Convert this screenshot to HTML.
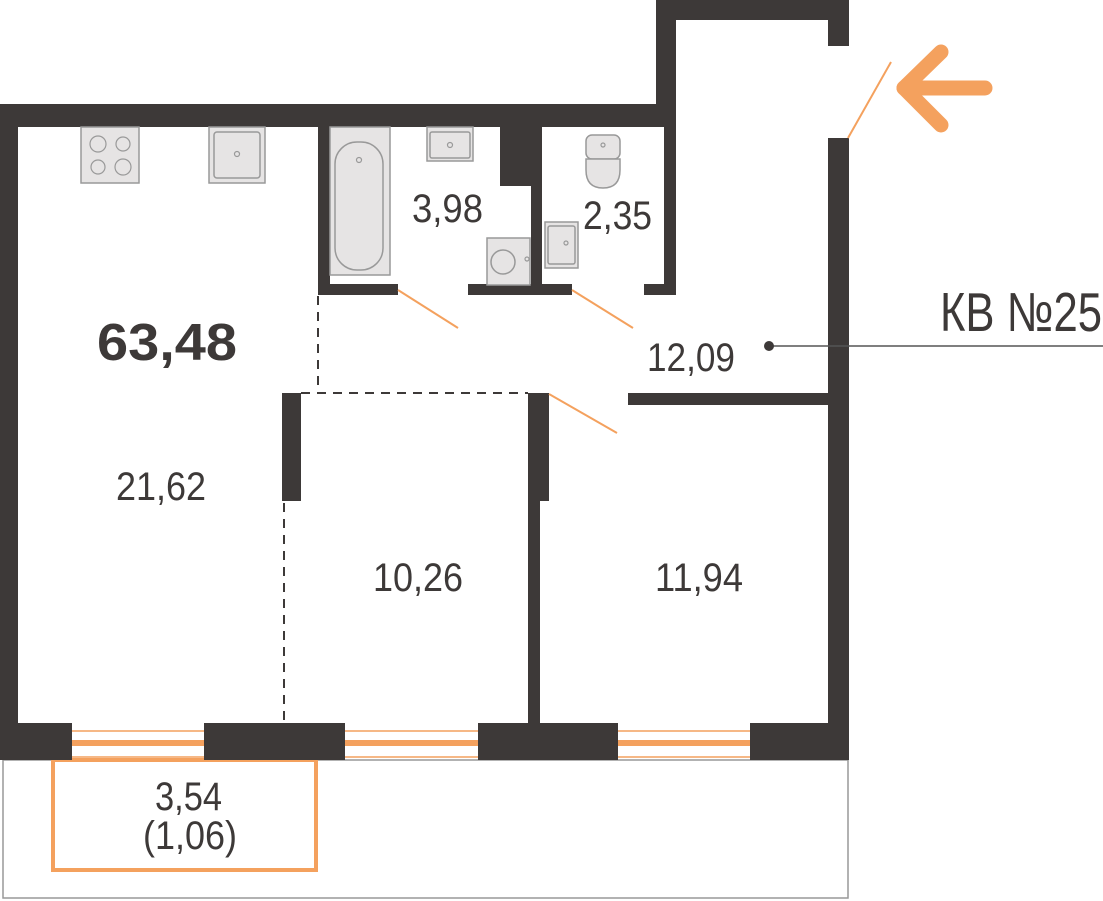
<!DOCTYPE html>
<html><head><meta charset="utf-8"><style>
html,body{margin:0;padding:0;background:#fff;}
svg{display:block;}
text{font-family:"Liberation Sans",sans-serif;fill:#3d3938;}
</style></head><body>
<svg width="1103" height="901" viewBox="0 0 1103 901" xmlns="http://www.w3.org/2000/svg">
<rect x="3" y="760" width="845" height="138" fill="none" stroke="#999" stroke-width="1.5"/>
<rect x="53" y="760" width="263" height="110" fill="none" stroke="#f4a15e" stroke-width="4"/>
<g fill="#3d3938">
<rect x="0" y="104" width="665" height="23"/>
<rect x="0" y="104" width="18" height="656"/>
<rect x="656" y="0" width="193" height="20"/>
<rect x="656" y="0" width="20" height="120"/>
<rect x="664" y="110" width="12" height="185"/>
<rect x="644" y="284" width="32" height="11"/>
<rect x="828" y="0" width="21" height="46"/>
<rect x="828" y="138" width="21" height="622"/>
<rect x="0" y="723" width="72" height="37"/>
<rect x="204" y="723" width="141" height="37"/>
<rect x="478" y="723" width="140" height="37"/>
<rect x="750" y="723" width="99" height="37"/>
<rect x="318" y="127" width="12" height="168"/>
<rect x="318" y="284" width="80" height="11"/>
<rect x="468" y="284" width="104" height="11"/>
<rect x="500" y="127" width="42" height="59"/>
<rect x="531" y="186" width="11" height="109"/>
<rect x="628" y="393" width="200" height="12"/>
<rect x="282" y="393" width="19" height="108"/>
<rect x="528" y="393" width="21" height="108"/>
<rect x="528" y="393" width="12" height="330"/>
</g>
<g stroke="#f4a15e">
<line x1="72" y1="731" x2="204" y2="731" stroke-width="1.5"/>
<line x1="72" y1="743" x2="204" y2="743" stroke-width="6"/>
<line x1="72" y1="757" x2="204" y2="757" stroke-width="1.5"/>
<line x1="345" y1="731" x2="478" y2="731" stroke-width="1.5"/>
<line x1="345" y1="743" x2="478" y2="743" stroke-width="6"/>
<line x1="345" y1="757" x2="478" y2="757" stroke-width="1.5"/>
<line x1="618" y1="731" x2="750" y2="731" stroke-width="1.5"/>
<line x1="618" y1="743" x2="750" y2="743" stroke-width="6"/>
<line x1="618" y1="757" x2="750" y2="757" stroke-width="1.5"/>
</g>
<g stroke="#f4a15e" stroke-width="2">
<line x1="398" y1="290" x2="458" y2="328"/>
<line x1="572" y1="290" x2="633" y2="328"/>
<line x1="549" y1="394" x2="617" y2="433"/>
<line x1="848" y1="138" x2="891" y2="62"/>
</g>
<g stroke="#f4a15e" stroke-width="15" stroke-linecap="round" stroke-linejoin="round" fill="none">
<polyline points="941,52 904,88 941,125"/>
<line x1="904" y1="88" x2="985" y2="88"/>
</g>
<g stroke="#3d3938" stroke-width="2" stroke-dasharray="9,7" fill="none">
<line x1="318" y1="296" x2="318" y2="393"/>
<line x1="301" y1="393" x2="528" y2="393"/>
<line x1="284" y1="503" x2="284" y2="723"/>
</g>
<g fill="#e6e4e4" stroke="#999" stroke-width="1.5">
<rect x="81" y="127" width="58" height="56"/>
<rect x="209" y="127" width="56" height="56"/>
<rect x="214" y="132" width="46" height="46" rx="3"/>
<rect x="330" y="127" width="60" height="148"/>
<rect x="335" y="142" width="48" height="128" rx="22"/>
<rect x="427" y="127" width="46" height="34"/>
<rect x="430" y="132" width="40" height="26" rx="2"/>
<rect x="487" y="238" width="43" height="47"/>
<circle cx="503" cy="262" r="12"/>
<rect x="545" y="222" width="33" height="46"/>
<rect x="548" y="226" width="27" height="38" rx="2"/>
<rect x="586" y="135" width="34" height="24" rx="6"/>
<path d="M586 159 L620 159 L620 170 Q620 188 603 188 Q586 188 586 170 Z"/>
</g>
<g fill="none" stroke="#999" stroke-width="1.2">
<circle cx="98" cy="144" r="8"/><circle cx="123" cy="144" r="7"/>
<circle cx="98" cy="167" r="7"/><circle cx="123" cy="167" r="8"/>
<circle cx="237" cy="154" r="2.5"/><circle cx="359" cy="160" r="2.5"/>
<circle cx="450" cy="145" r="2.5"/><circle cx="527" cy="259" r="2"/>
<circle cx="603" cy="145" r="2"/><circle cx="566" cy="243" r="2"/>
</g>
<text x="97" y="360" font-size="52" font-weight="bold" textLength="140" lengthAdjust="spacingAndGlyphs">63,48</text>
<text x="412" y="222" font-size="40" textLength="71" lengthAdjust="spacingAndGlyphs">3,98</text>
<text x="583" y="229" font-size="40" textLength="69" lengthAdjust="spacingAndGlyphs">2,35</text>
<text x="647" y="371" font-size="40" textLength="88" lengthAdjust="spacingAndGlyphs">12,09</text>
<text x="116" y="500" font-size="40" textLength="90" lengthAdjust="spacingAndGlyphs">21,62</text>
<text x="373" y="591" font-size="40" textLength="90" lengthAdjust="spacingAndGlyphs">10,26</text>
<text x="655" y="591" font-size="40" textLength="88" lengthAdjust="spacingAndGlyphs">11,94</text>
<text x="155" y="810" font-size="40" textLength="67" lengthAdjust="spacingAndGlyphs">3,54</text>
<text x="143" y="849" font-size="40" textLength="94" lengthAdjust="spacingAndGlyphs">(1,06)</text>
<text x="940" y="331" font-size="55" textLength="162" lengthAdjust="spacingAndGlyphs">КВ №25</text>
<line x1="769" y1="346" x2="1103" y2="346" stroke="#555" stroke-width="1.5"/>
<circle cx="769" cy="346" r="5" fill="#3d3938"/>
</svg>
</body></html>
